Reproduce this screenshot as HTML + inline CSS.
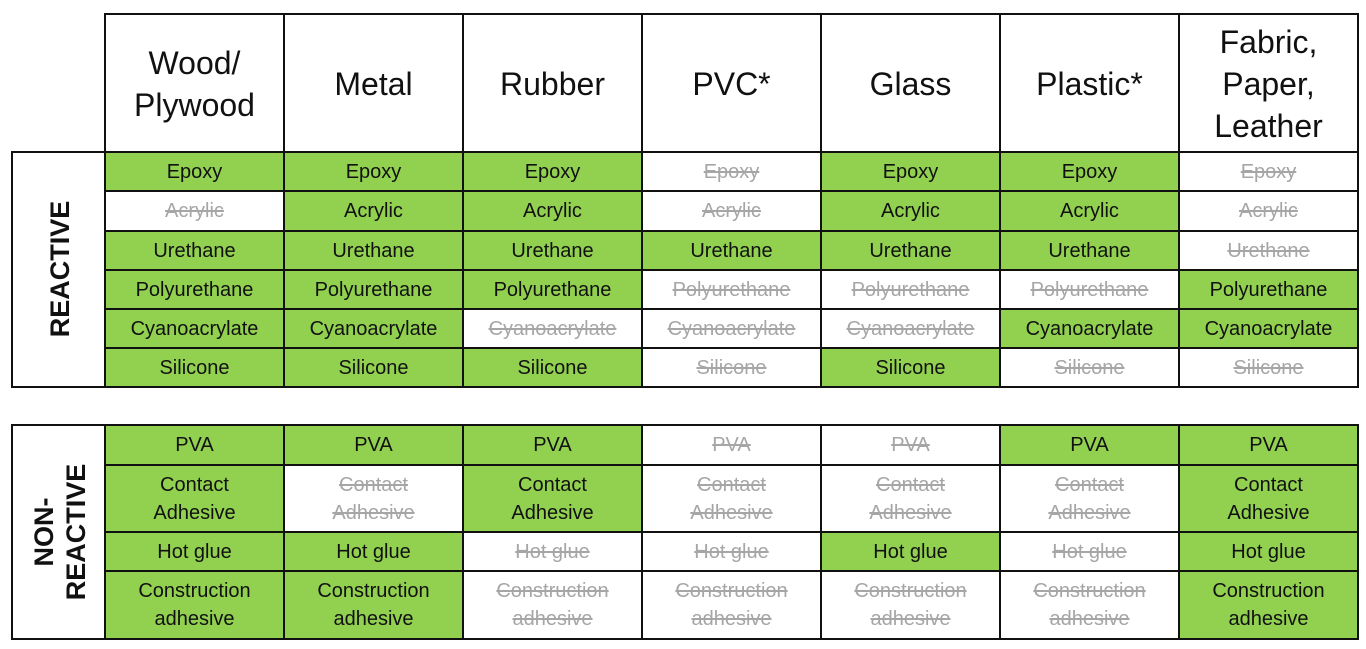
<!DOCTYPE html>
<html><head><meta charset="utf-8"><style>
body{margin:0;width:1366px;height:649px;background:#fff;position:relative;overflow:hidden;font-family:"Liberation Sans",sans-serif;}
.c{position:absolute;box-sizing:border-box;border:2px solid #111;display:flex;align-items:center;justify-content:center;text-align:center;font-size:20px;line-height:28px;color:#111;background:#fff;}
.g{background:#92d050;}
.s{color:#a6a6a6;text-decoration:line-through;}
.h{font-size:32px;line-height:42px;font-weight:normal;}
.lab{position:absolute;font-weight:bold;font-size:27px;line-height:32px;text-align:center;transform:rotate(-90deg);color:#111;}
</style></head><body>
<!-- header -->
<div class="c h" style="left:104px;top:13px;width:181px;height:141px">Wood/<br>Plywood</div>
<div class="c h" style="left:283px;top:13px;width:181px;height:141px">Metal</div>
<div class="c h" style="left:462px;top:13px;width:181px;height:141px">Rubber</div>
<div class="c h" style="left:641px;top:13px;width:181px;height:141px">PVC*</div>
<div class="c h" style="left:820px;top:13px;width:181px;height:141px">Glass</div>
<div class="c h" style="left:999px;top:13px;width:181px;height:141px">Plastic*</div>
<div class="c h" style="left:1178px;top:13px;width:181px;height:141px">Fabric,<br>Paper,<br>Leather</div>

<!-- reactive label box -->
<div class="c" style="left:11px;top:151px;width:96px;height:237px"></div>
<div class="lab" style="left:-40px;top:253px;width:200px">REACTIVE</div>

<!-- Epoxy row y152-191 -->
<div class="c g" style="left:104px;top:151px;width:181px;height:41px">Epoxy</div>
<div class="c g" style="left:283px;top:151px;width:181px;height:41px">Epoxy</div>
<div class="c g" style="left:462px;top:151px;width:181px;height:41px">Epoxy</div>
<div class="c" style="left:641px;top:151px;width:181px;height:41px"><span class="s">Epoxy</span></div>
<div class="c g" style="left:820px;top:151px;width:181px;height:41px">Epoxy</div>
<div class="c g" style="left:999px;top:151px;width:181px;height:41px">Epoxy</div>
<div class="c" style="left:1178px;top:151px;width:181px;height:41px"><span class="s">Epoxy</span></div>
<!-- Acrylic -->
<div class="c" style="left:104px;top:190px;width:181px;height:42px"><span class="s">Acrylic</span></div>
<div class="c g" style="left:283px;top:190px;width:181px;height:42px">Acrylic</div>
<div class="c g" style="left:462px;top:190px;width:181px;height:42px">Acrylic</div>
<div class="c" style="left:641px;top:190px;width:181px;height:42px"><span class="s">Acrylic</span></div>
<div class="c g" style="left:820px;top:190px;width:181px;height:42px">Acrylic</div>
<div class="c g" style="left:999px;top:190px;width:181px;height:42px">Acrylic</div>
<div class="c" style="left:1178px;top:190px;width:181px;height:42px"><span class="s">Acrylic</span></div>
<!-- Urethane -->
<div class="c g" style="left:104px;top:230px;width:181px;height:41px">Urethane</div>
<div class="c g" style="left:283px;top:230px;width:181px;height:41px">Urethane</div>
<div class="c g" style="left:462px;top:230px;width:181px;height:41px">Urethane</div>
<div class="c g" style="left:641px;top:230px;width:181px;height:41px">Urethane</div>
<div class="c g" style="left:820px;top:230px;width:181px;height:41px">Urethane</div>
<div class="c g" style="left:999px;top:230px;width:181px;height:41px">Urethane</div>
<div class="c" style="left:1178px;top:230px;width:181px;height:41px"><span class="s">Urethane</span></div>
<!-- Polyurethane -->
<div class="c g" style="left:104px;top:269px;width:181px;height:41px">Polyurethane</div>
<div class="c g" style="left:283px;top:269px;width:181px;height:41px">Polyurethane</div>
<div class="c g" style="left:462px;top:269px;width:181px;height:41px">Polyurethane</div>
<div class="c" style="left:641px;top:269px;width:181px;height:41px"><span class="s">Polyurethane</span></div>
<div class="c" style="left:820px;top:269px;width:181px;height:41px"><span class="s">Polyurethane</span></div>
<div class="c" style="left:999px;top:269px;width:181px;height:41px"><span class="s">Polyurethane</span></div>
<div class="c g" style="left:1178px;top:269px;width:181px;height:41px">Polyurethane</div>
<!-- Cyanoacrylate -->
<div class="c g" style="left:104px;top:308px;width:181px;height:41px">Cyanoacrylate</div>
<div class="c g" style="left:283px;top:308px;width:181px;height:41px">Cyanoacrylate</div>
<div class="c" style="left:462px;top:308px;width:181px;height:41px"><span class="s">Cyanoacrylate</span></div>
<div class="c" style="left:641px;top:308px;width:181px;height:41px"><span class="s">Cyanoacrylate</span></div>
<div class="c" style="left:820px;top:308px;width:181px;height:41px"><span class="s">Cyanoacrylate</span></div>
<div class="c g" style="left:999px;top:308px;width:181px;height:41px">Cyanoacrylate</div>
<div class="c g" style="left:1178px;top:308px;width:181px;height:41px">Cyanoacrylate</div>
<!-- Silicone -->
<div class="c g" style="left:104px;top:347px;width:181px;height:41px">Silicone</div>
<div class="c g" style="left:283px;top:347px;width:181px;height:41px">Silicone</div>
<div class="c g" style="left:462px;top:347px;width:181px;height:41px">Silicone</div>
<div class="c" style="left:641px;top:347px;width:181px;height:41px"><span class="s">Silicone</span></div>
<div class="c g" style="left:820px;top:347px;width:181px;height:41px">Silicone</div>
<div class="c" style="left:999px;top:347px;width:181px;height:41px"><span class="s">Silicone</span></div>
<div class="c" style="left:1178px;top:347px;width:181px;height:41px"><span class="s">Silicone</span></div>

<!-- non-reactive label box -->
<div class="c" style="left:11px;top:424px;width:96px;height:216px"></div>
<div class="lab" style="left:-40px;top:500px;width:200px">NON-<br>REACTIVE</div>

<!-- PVA y425-465 -->
<div class="c g" style="left:104px;top:424px;width:181px;height:42px">PVA</div>
<div class="c g" style="left:283px;top:424px;width:181px;height:42px">PVA</div>
<div class="c g" style="left:462px;top:424px;width:181px;height:42px">PVA</div>
<div class="c" style="left:641px;top:424px;width:181px;height:42px"><span class="s">PVA</span></div>
<div class="c" style="left:820px;top:424px;width:181px;height:42px"><span class="s">PVA</span></div>
<div class="c g" style="left:999px;top:424px;width:181px;height:42px">PVA</div>
<div class="c g" style="left:1178px;top:424px;width:181px;height:42px">PVA</div>
<!-- Contact Adhesive y465-532 -->
<div class="c g" style="left:104px;top:464px;width:181px;height:69px">Contact<br>Adhesive</div>
<div class="c" style="left:283px;top:464px;width:181px;height:69px"><span class="s">Contact<br>Adhesive</span></div>
<div class="c g" style="left:462px;top:464px;width:181px;height:69px">Contact<br>Adhesive</div>
<div class="c" style="left:641px;top:464px;width:181px;height:69px"><span class="s">Contact<br>Adhesive</span></div>
<div class="c" style="left:820px;top:464px;width:181px;height:69px"><span class="s">Contact<br>Adhesive</span></div>
<div class="c" style="left:999px;top:464px;width:181px;height:69px"><span class="s">Contact<br>Adhesive</span></div>
<div class="c g" style="left:1178px;top:464px;width:181px;height:69px">Contact<br>Adhesive</div>
<!-- Hot glue y532-571 -->
<div class="c g" style="left:104px;top:531px;width:181px;height:41px">Hot glue</div>
<div class="c g" style="left:283px;top:531px;width:181px;height:41px">Hot glue</div>
<div class="c" style="left:462px;top:531px;width:181px;height:41px"><span class="s">Hot glue</span></div>
<div class="c" style="left:641px;top:531px;width:181px;height:41px"><span class="s">Hot glue</span></div>
<div class="c g" style="left:820px;top:531px;width:181px;height:41px">Hot glue</div>
<div class="c" style="left:999px;top:531px;width:181px;height:41px"><span class="s">Hot glue</span></div>
<div class="c g" style="left:1178px;top:531px;width:181px;height:41px">Hot glue</div>
<!-- Construction y571-638 -->
<div class="c g" style="left:104px;top:570px;width:181px;height:70px">Construction<br>adhesive</div>
<div class="c g" style="left:283px;top:570px;width:181px;height:70px">Construction<br>adhesive</div>
<div class="c" style="left:462px;top:570px;width:181px;height:70px"><span class="s">Construction<br>adhesive</span></div>
<div class="c" style="left:641px;top:570px;width:181px;height:70px"><span class="s">Construction<br>adhesive</span></div>
<div class="c" style="left:820px;top:570px;width:181px;height:70px"><span class="s">Construction<br>adhesive</span></div>
<div class="c" style="left:999px;top:570px;width:181px;height:70px"><span class="s">Construction<br>adhesive</span></div>
<div class="c g" style="left:1178px;top:570px;width:181px;height:70px">Construction<br>adhesive</div>
</body></html>
